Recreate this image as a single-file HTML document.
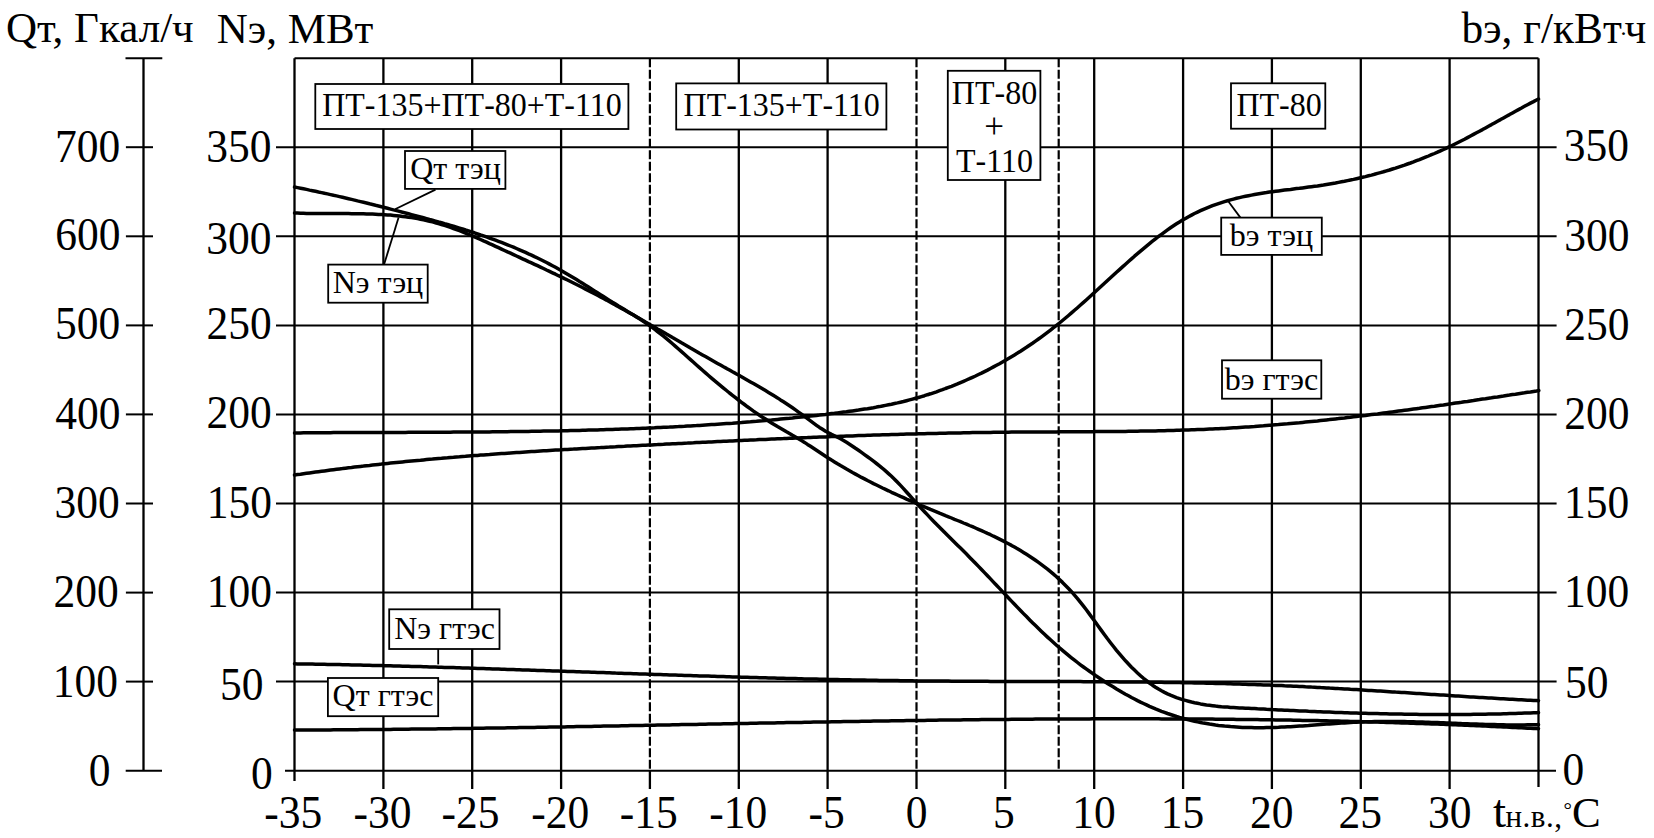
<!DOCTYPE html>
<html><head><meta charset="utf-8"><style>
html,body{margin:0;padding:0;background:#fff;}
svg{display:block;}
text{font-family:"Liberation Serif",serif;fill:#000;}
.g{stroke:#000;stroke-width:2.3;fill:none;}
.gh{stroke:#000;stroke-width:2.0;fill:none;}
.d{stroke:#000;stroke-width:2.2;fill:none;stroke-dasharray:9 2.5;}
.c{stroke:#000;stroke-width:3.5;fill:none;stroke-linecap:round;stroke-linejoin:round;}
.l{stroke:#000;stroke-width:1.8;}
.b{stroke:#000;stroke-width:1.8;fill:#fff;}
</style></head><body>
<svg width="1654" height="838" viewBox="0 0 1654 838">
<line x1="276" y1="681.6" x2="1556.6" y2="681.6" class="gh"/>
<line x1="276" y1="592.6" x2="1556.6" y2="592.6" class="gh"/>
<line x1="276" y1="503.5" x2="1556.6" y2="503.5" class="gh"/>
<line x1="276" y1="414.4" x2="1556.6" y2="414.4" class="gh"/>
<line x1="276" y1="325.4" x2="1556.6" y2="325.4" class="gh"/>
<line x1="276" y1="236.3" x2="1556.6" y2="236.3" class="gh"/>
<line x1="276" y1="147.2" x2="1556.6" y2="147.2" class="gh"/>
<line x1="285" y1="770.7" x2="1556" y2="770.7" class="gh"/>
<line x1="294.5" y1="58.3" x2="1538.5" y2="58.3" class="gh"/>
<line x1="294.5" y1="58.3" x2="294.5" y2="781" class="g"/>
<line x1="383.4" y1="58.3" x2="383.4" y2="789" class="g"/>
<line x1="472.2" y1="58.3" x2="472.2" y2="789" class="g"/>
<line x1="561.1" y1="58.3" x2="561.1" y2="789" class="g"/>
<line x1="649.9" y1="58.3" x2="649.9" y2="770.7" class="d"/>
<line x1="649.9" y1="770.7" x2="649.9" y2="789" class="g"/>
<line x1="738.8" y1="58.3" x2="738.8" y2="789" class="g"/>
<line x1="827.6" y1="58.3" x2="827.6" y2="789" class="g"/>
<line x1="916.5" y1="58.3" x2="916.5" y2="770.7" class="d"/>
<line x1="916.5" y1="770.7" x2="916.5" y2="789" class="g"/>
<line x1="1005.3" y1="58.3" x2="1005.3" y2="789" class="g"/>
<line x1="1094.2" y1="58.3" x2="1094.2" y2="789" class="g"/>
<line x1="1183.1" y1="58.3" x2="1183.1" y2="789" class="g"/>
<line x1="1271.9" y1="58.3" x2="1271.9" y2="789" class="g"/>
<line x1="1360.8" y1="58.3" x2="1360.8" y2="789" class="g"/>
<line x1="1449.6" y1="58.3" x2="1449.6" y2="789" class="g"/>
<line x1="1538.5" y1="58.3" x2="1538.5" y2="787" class="g"/>
<line x1="1058.7" y1="58.3" x2="1058.7" y2="770.7" class="d"/>
<line x1="143.5" y1="58.3" x2="143.5" y2="770.8" class="g"/>
<line x1="125.5" y1="58.3" x2="162.3" y2="58.3" class="gh"/>
<line x1="125.7" y1="770.8" x2="162" y2="770.8" class="gh"/>
<line x1="125.9" y1="681.6" x2="153" y2="681.6" class="gh"/>
<line x1="125.9" y1="592.6" x2="153" y2="592.6" class="gh"/>
<line x1="125.9" y1="503.5" x2="153" y2="503.5" class="gh"/>
<line x1="125.9" y1="414.4" x2="153" y2="414.4" class="gh"/>
<line x1="125.9" y1="325.4" x2="153" y2="325.4" class="gh"/>
<line x1="125.9" y1="236.3" x2="153" y2="236.3" class="gh"/>
<line x1="125.9" y1="147.2" x2="153" y2="147.2" class="gh"/>
<path d="M294.5,187.0 L297.5,187.6 L300.5,188.2 L303.5,188.8 L306.5,189.4 L309.5,190.1 L312.5,190.7 L315.5,191.3 L318.5,192.0 L321.5,192.6 L324.5,193.3 L327.5,193.9 L330.5,194.6 L333.5,195.3 L336.5,195.9 L339.5,196.6 L342.5,197.3 L345.5,198.0 L348.5,198.7 L351.5,199.4 L354.5,200.1 L357.5,200.9 L360.5,201.6 L363.5,202.3 L366.5,203.0 L369.5,203.8 L372.5,204.5 L375.5,205.3 L378.5,206.0 L381.5,206.8 L384.5,207.5 L387.5,208.3 L390.5,209.1 L393.5,209.9 L396.5,210.6 L399.5,211.4 L402.5,212.2 L405.5,213.0 L408.5,213.8 L411.5,214.6 L414.5,215.4 L417.5,216.2 L420.5,217.0 L423.5,217.8 L426.5,218.6 L429.5,219.5 L432.5,220.3 L435.5,221.1 L438.5,222.0 L441.5,222.8 L444.5,223.7 L447.5,224.5 L450.5,225.4 L453.5,226.3 L456.5,227.2 L459.5,228.1 L462.5,229.0 L465.5,230.0 L468.5,230.9 L471.5,231.9 L474.5,232.8 L477.5,233.8 L480.5,234.9 L483.5,235.9 L486.5,236.9 L489.5,238.0 L492.5,239.1 L495.5,240.2 L498.5,241.3 L501.5,242.4 L504.5,243.6 L507.5,244.8 L510.5,246.0 L513.5,247.2 L516.5,248.5 L519.5,249.8 L522.5,251.1 L525.5,252.4 L528.5,253.8 L531.5,255.1 L534.5,256.6 L537.5,258.0 L540.5,259.5 L543.5,261.0 L546.5,262.5 L549.5,264.1 L552.5,265.7 L555.5,267.3 L558.5,269.0 L561.5,270.7 L564.5,272.4 L567.5,274.2 L570.5,276.0 L573.5,277.8 L576.5,279.6 L579.5,281.5 L582.5,283.3 L585.5,285.2 L588.5,287.1 L591.5,289.0 L594.5,290.9 L597.5,292.8 L600.5,294.7 L603.5,296.6 L606.5,298.5 L609.5,300.4 L612.5,302.3 L615.5,304.1 L618.5,306.0 L621.5,307.8 L624.5,309.6 L627.5,311.4 L630.5,313.2 L633.5,315.0 L636.5,316.9 L639.5,318.8 L642.5,320.7 L645.5,322.7 L648.5,324.8 L651.5,326.9 L654.5,329.2 L657.5,331.5 L660.5,333.8 L663.5,336.2 L666.5,338.7 L669.5,341.2 L672.5,343.8 L675.5,346.4 L678.5,349.0 L681.5,351.6 L684.5,354.3 L687.5,357.0 L690.5,359.6 L693.5,362.3 L696.5,365.0 L699.5,367.6 L702.5,370.3 L705.5,372.9 L708.5,375.5 L711.5,378.1 L714.5,380.6 L717.5,383.1 L720.5,385.6 L723.5,388.1 L726.5,390.5 L729.5,393.0 L732.5,395.3 L735.5,397.7 L738.5,400.0 L741.5,402.3 L744.5,404.5 L747.5,406.8 L750.5,408.9 L753.5,411.1 L756.5,413.1 L759.5,415.2 L762.5,417.2 L765.5,419.1 L768.5,421.0 L771.5,422.9 L774.5,424.7 L777.5,426.5 L780.5,428.2 L783.5,429.9 L786.5,431.7 L789.5,433.4 L792.5,435.2 L795.5,436.9 L798.5,438.7 L801.5,440.6 L804.5,442.4 L807.5,444.4 L810.5,446.3 L813.5,448.3 L816.5,450.3 L819.5,452.3 L822.5,454.3 L825.5,456.3 L828.5,458.2 L831.5,460.1 L834.5,461.9 L837.5,463.8 L840.5,465.6 L843.5,467.3 L846.5,469.1 L849.5,470.8 L852.5,472.5 L855.5,474.1 L858.5,475.7 L861.5,477.4 L864.5,478.9 L867.5,480.5 L870.5,482.0 L873.5,483.6 L876.5,485.0 L879.5,486.5 L882.5,488.0 L885.5,489.4 L888.5,490.8 L891.5,492.3 L894.5,493.6 L897.5,495.0 L900.5,496.4 L903.5,497.7 L906.5,499.1 L909.5,500.4 L912.5,501.7 L915.5,503.0 L918.5,504.3 L921.5,505.6 L924.5,506.8 L927.5,508.1 L930.5,509.4 L933.5,510.6 L936.5,511.8 L939.5,513.1 L942.5,514.3 L945.5,515.6 L948.5,516.8 L951.5,518.0 L954.5,519.3 L957.5,520.5 L960.5,521.7 L963.5,523.0 L966.5,524.2 L969.5,525.5 L972.5,526.7 L975.5,528.0 L978.5,529.3 L981.5,530.6 L984.5,532.0 L987.5,533.4 L990.5,534.7 L993.5,536.2 L996.5,537.6 L999.5,539.1 L1002.5,540.6 L1005.5,542.2 L1008.5,543.8 L1011.5,545.4 L1014.5,547.1 L1017.5,548.8 L1020.5,550.6 L1023.5,552.4 L1026.5,554.3 L1029.5,556.2 L1032.5,558.2 L1035.5,560.3 L1038.5,562.4 L1041.5,564.6 L1044.5,566.9 L1047.5,569.2 L1050.5,571.7 L1053.5,574.2 L1056.5,576.8 L1059.5,579.6 L1062.5,582.4 L1065.5,585.4 L1068.5,588.5 L1071.5,591.7 L1074.5,595.1 L1077.5,598.6 L1080.5,602.3 L1083.5,606.1 L1086.5,610.0 L1089.5,614.1 L1092.5,618.2 L1095.5,622.3 L1098.5,626.5 L1101.5,630.6 L1104.5,634.7 L1107.5,638.8 L1110.5,642.7 L1113.5,646.5 L1116.5,650.3 L1119.5,653.9 L1122.5,657.4 L1125.5,660.8 L1128.5,664.0 L1131.5,667.2 L1134.5,670.1 L1137.5,673.0 L1140.5,675.7 L1143.5,678.3 L1146.5,680.7 L1149.5,683.0 L1152.5,685.2 L1155.5,687.2 L1158.5,689.1 L1161.5,690.8 L1164.5,692.4 L1167.5,693.9 L1170.5,695.2 L1173.5,696.4 L1176.5,697.6 L1179.5,698.6 L1182.5,699.6 L1185.5,700.4 L1188.5,701.2 L1191.5,702.0 L1194.5,702.7 L1197.5,703.3 L1200.5,703.9 L1203.5,704.4 L1206.5,704.9 L1209.5,705.3 L1212.5,705.7 L1215.5,706.1 L1218.5,706.4 L1221.5,706.7 L1224.5,706.9 L1227.5,707.1 L1230.5,707.4 L1233.5,707.5 L1236.5,707.7 L1239.5,707.9 L1242.5,708.0 L1245.5,708.2 L1248.5,708.3 L1251.5,708.5 L1254.5,708.6 L1257.5,708.8 L1260.5,708.9 L1263.5,709.1 L1266.5,709.3 L1269.5,709.4 L1272.5,709.6 L1275.5,709.7 L1278.5,709.9 L1281.5,710.0 L1284.5,710.2 L1287.5,710.3 L1290.5,710.5 L1293.5,710.6 L1296.5,710.7 L1299.5,710.9 L1302.5,711.0 L1305.5,711.1 L1308.5,711.3 L1311.5,711.4 L1314.5,711.5 L1317.5,711.7 L1320.5,711.8 L1323.5,711.9 L1326.5,712.0 L1329.5,712.1 L1332.5,712.2 L1335.5,712.4 L1338.5,712.5 L1341.5,712.6 L1344.5,712.7 L1347.5,712.8 L1350.5,712.9 L1353.5,713.0 L1356.5,713.1 L1359.5,713.2 L1362.5,713.2 L1365.5,713.3 L1368.5,713.4 L1371.5,713.5 L1374.5,713.6 L1377.5,713.6 L1380.5,713.7 L1383.5,713.8 L1386.5,713.8 L1389.5,713.9 L1392.5,714.0 L1395.5,714.0 L1398.5,714.1 L1401.5,714.1 L1404.5,714.2 L1407.5,714.2 L1410.5,714.3 L1413.5,714.3 L1416.5,714.3 L1419.5,714.4 L1422.5,714.4 L1425.5,714.4 L1428.5,714.4 L1431.5,714.5 L1434.5,714.5 L1437.5,714.5 L1440.5,714.5 L1443.5,714.5 L1446.5,714.5 L1449.5,714.5 L1452.5,714.5 L1455.5,714.5 L1458.5,714.5 L1461.5,714.4 L1464.5,714.4 L1467.5,714.4 L1470.5,714.4 L1473.5,714.3 L1476.5,714.3 L1479.5,714.2 L1482.5,714.2 L1485.5,714.2 L1488.5,714.1 L1491.5,714.0 L1494.5,714.0 L1497.5,713.9 L1500.5,713.9 L1503.5,713.8 L1506.5,713.7 L1509.5,713.6 L1512.5,713.5 L1515.5,713.4 L1518.5,713.3 L1521.5,713.2 L1524.5,713.1 L1527.5,713.0 L1530.5,712.9 L1533.5,712.8 L1536.5,712.7 L1538.5,712.6" class="c"/>
<path d="M294.5,213.0 L297.5,213.1 L300.5,213.2 L303.5,213.3 L306.5,213.4 L309.5,213.5 L312.5,213.5 L315.5,213.5 L318.5,213.6 L321.5,213.6 L324.5,213.6 L327.5,213.6 L330.5,213.6 L333.5,213.6 L336.5,213.6 L339.5,213.6 L342.5,213.6 L345.5,213.6 L348.5,213.6 L351.5,213.7 L354.5,213.7 L357.5,213.7 L360.5,213.8 L363.5,213.8 L366.5,213.9 L369.5,214.0 L372.5,214.1 L375.5,214.2 L378.5,214.4 L381.5,214.5 L384.5,214.7 L387.5,214.9 L390.5,215.1 L393.5,215.4 L396.5,215.7 L399.5,216.0 L402.5,216.4 L405.5,216.7 L408.5,217.2 L411.5,217.6 L414.5,218.1 L417.5,218.6 L420.5,219.2 L423.5,219.8 L426.5,220.5 L429.5,221.2 L432.5,221.9 L435.5,222.7 L438.5,223.6 L441.5,224.5 L444.5,225.4 L447.5,226.4 L450.5,227.4 L453.5,228.5 L456.5,229.6 L459.5,230.7 L462.5,231.9 L465.5,233.1 L468.5,234.3 L471.5,235.6 L474.5,236.9 L477.5,238.2 L480.5,239.5 L483.5,240.9 L486.5,242.2 L489.5,243.6 L492.5,244.9 L495.5,246.3 L498.5,247.7 L501.5,249.1 L504.5,250.5 L507.5,251.9 L510.5,253.2 L513.5,254.6 L516.5,256.0 L519.5,257.4 L522.5,258.8 L525.5,260.2 L528.5,261.6 L531.5,262.9 L534.5,264.3 L537.5,265.7 L540.5,267.1 L543.5,268.5 L546.5,270.0 L549.5,271.4 L552.5,272.8 L555.5,274.2 L558.5,275.7 L561.5,277.1 L564.5,278.6 L567.5,280.0 L570.5,281.5 L573.5,283.0 L576.5,284.5 L579.5,286.0 L582.5,287.5 L585.5,289.1 L588.5,290.6 L591.5,292.2 L594.5,293.7 L597.5,295.3 L600.5,296.9 L603.5,298.5 L606.5,300.1 L609.5,301.8 L612.5,303.4 L615.5,305.1 L618.5,306.7 L621.5,308.4 L624.5,310.0 L627.5,311.7 L630.5,313.4 L633.5,315.1 L636.5,316.8 L639.5,318.5 L642.5,320.2 L645.5,322.0 L648.5,323.7 L651.5,325.4 L654.5,327.1 L657.5,328.9 L660.5,330.6 L663.5,332.3 L666.5,334.1 L669.5,335.8 L672.5,337.6 L675.5,339.3 L678.5,341.0 L681.5,342.8 L684.5,344.5 L687.5,346.2 L690.5,348.0 L693.5,349.7 L696.5,351.4 L699.5,353.2 L702.5,354.9 L705.5,356.6 L708.5,358.3 L711.5,360.0 L714.5,361.7 L717.5,363.4 L720.5,365.1 L723.5,366.8 L726.5,368.4 L729.5,370.1 L732.5,371.8 L735.5,373.4 L738.5,375.1 L741.5,376.8 L744.5,378.5 L747.5,380.2 L750.5,381.9 L753.5,383.6 L756.5,385.3 L759.5,387.0 L762.5,388.8 L765.5,390.6 L768.5,392.4 L771.5,394.2 L774.5,396.1 L777.5,397.9 L780.5,399.9 L783.5,401.8 L786.5,403.8 L789.5,405.8 L792.5,407.8 L795.5,409.9 L798.5,412.1 L801.5,414.2 L804.5,416.4 L807.5,418.7 L810.5,420.9 L813.5,423.1 L816.5,425.3 L819.5,427.4 L822.5,429.3 L825.5,431.2 L828.5,432.8 L831.5,434.4 L834.5,435.8 L837.5,437.3 L840.5,438.8 L843.5,440.5 L846.5,442.3 L849.5,444.2 L852.5,446.2 L855.5,448.3 L858.5,450.3 L861.5,452.4 L864.5,454.6 L867.5,456.7 L870.5,458.9 L873.5,461.2 L876.5,463.5 L879.5,465.9 L882.5,468.3 L885.5,470.9 L888.5,473.6 L891.5,476.3 L894.5,479.2 L897.5,482.3 L900.5,485.4 L903.5,488.6 L906.5,492.0 L909.5,495.3 L912.5,498.7 L915.5,502.0 L918.5,505.3 L921.5,508.6 L924.5,511.8 L927.5,514.9 L930.5,518.1 L933.5,521.2 L936.5,524.2 L939.5,527.2 L942.5,530.3 L945.5,533.3 L948.5,536.2 L951.5,539.2 L954.5,542.2 L957.5,545.2 L960.5,548.1 L963.5,551.1 L966.5,554.1 L969.5,557.2 L972.5,560.2 L975.5,563.3 L978.5,566.4 L981.5,569.5 L984.5,572.6 L987.5,575.8 L990.5,578.9 L993.5,582.1 L996.5,585.3 L999.5,588.4 L1002.5,591.6 L1005.5,594.8 L1008.5,598.0 L1011.5,601.1 L1014.5,604.2 L1017.5,607.4 L1020.5,610.5 L1023.5,613.6 L1026.5,616.6 L1029.5,619.7 L1032.5,622.7 L1035.5,625.6 L1038.5,628.5 L1041.5,631.4 L1044.5,634.3 L1047.5,637.1 L1050.5,639.8 L1053.5,642.5 L1056.5,645.2 L1059.5,647.8 L1062.5,650.4 L1065.5,652.9 L1068.5,655.4 L1071.5,657.8 L1074.5,660.1 L1077.5,662.5 L1080.5,664.8 L1083.5,667.0 L1086.5,669.2 L1089.5,671.3 L1092.5,673.4 L1095.5,675.5 L1098.5,677.5 L1101.5,679.5 L1104.5,681.5 L1107.5,683.4 L1110.5,685.3 L1113.5,687.1 L1116.5,689.0 L1119.5,690.7 L1122.5,692.5 L1125.5,694.2 L1128.5,695.8 L1131.5,697.5 L1134.5,699.0 L1137.5,700.6 L1140.5,702.1 L1143.5,703.5 L1146.5,704.9 L1149.5,706.3 L1152.5,707.6 L1155.5,708.9 L1158.5,710.1 L1161.5,711.3 L1164.5,712.4 L1167.5,713.5 L1170.5,714.5 L1173.5,715.5 L1176.5,716.5 L1179.5,717.4 L1182.5,718.2 L1185.5,719.0 L1188.5,719.8 L1191.5,720.5 L1194.5,721.2 L1197.5,721.9 L1200.5,722.5 L1203.5,723.1 L1206.5,723.6 L1209.5,724.1 L1212.5,724.5 L1215.5,725.0 L1218.5,725.4 L1221.5,725.7 L1224.5,726.1 L1227.5,726.3 L1230.5,726.6 L1233.5,726.8 L1236.5,727.0 L1239.5,727.2 L1242.5,727.4 L1245.5,727.5 L1248.5,727.6 L1251.5,727.6 L1254.5,727.7 L1257.5,727.7 L1260.5,727.7 L1263.5,727.7 L1266.5,727.6 L1269.5,727.6 L1272.5,727.5 L1275.5,727.4 L1278.5,727.3 L1281.5,727.1 L1284.5,727.0 L1287.5,726.8 L1290.5,726.7 L1293.5,726.5 L1296.5,726.3 L1299.5,726.1 L1302.5,725.9 L1305.5,725.7 L1308.5,725.5 L1311.5,725.2 L1314.5,725.0 L1317.5,724.8 L1320.5,724.6 L1323.5,724.3 L1326.5,724.1 L1329.5,723.9 L1332.5,723.7 L1335.5,723.5 L1338.5,723.2 L1341.5,723.0 L1344.5,722.9 L1347.5,722.7 L1350.5,722.5 L1353.5,722.3 L1356.5,722.2 L1359.5,722.1 L1362.5,721.9 L1365.5,721.8 L1368.5,721.7 L1371.5,721.7 L1374.5,721.6 L1377.5,721.6 L1380.5,721.5 L1383.5,721.5 L1386.5,721.5 L1389.5,721.5 L1392.5,721.5 L1395.5,721.5 L1398.5,721.6 L1401.5,721.6 L1404.5,721.6 L1407.5,721.7 L1410.5,721.8 L1413.5,721.8 L1416.5,721.9 L1419.5,722.0 L1422.5,722.1 L1425.5,722.2 L1428.5,722.3 L1431.5,722.4 L1434.5,722.5 L1437.5,722.6 L1440.5,722.7 L1443.5,722.8 L1446.5,723.0 L1449.5,723.1 L1452.5,723.2 L1455.5,723.3 L1458.5,723.4 L1461.5,723.6 L1464.5,723.7 L1467.5,723.8 L1470.5,723.9 L1473.5,724.0 L1476.5,724.1 L1479.5,724.2 L1482.5,724.3 L1485.5,724.4 L1488.5,724.5 L1491.5,724.6 L1494.5,724.6 L1497.5,724.7 L1500.5,724.8 L1503.5,724.8 L1506.5,724.9 L1509.5,724.9 L1512.5,724.9 L1515.5,724.9 L1518.5,724.9 L1521.5,724.9 L1524.5,724.9 L1527.5,724.8 L1530.5,724.8 L1533.5,724.7 L1536.5,724.7 L1538.5,724.6" class="c"/>
<path d="M294.5,432.9 L297.5,432.9 L300.5,432.9 L303.5,432.8 L306.5,432.8 L309.5,432.8 L312.5,432.8 L315.5,432.7 L318.5,432.7 L321.5,432.7 L324.5,432.7 L327.5,432.7 L330.5,432.7 L333.5,432.6 L336.5,432.6 L339.5,432.6 L342.5,432.6 L345.5,432.6 L348.5,432.6 L351.5,432.6 L354.5,432.5 L357.5,432.5 L360.5,432.5 L363.5,432.5 L366.5,432.5 L369.5,432.5 L372.5,432.5 L375.5,432.5 L378.5,432.4 L381.5,432.4 L384.5,432.4 L387.5,432.4 L390.5,432.4 L393.5,432.4 L396.5,432.4 L399.5,432.4 L402.5,432.4 L405.5,432.4 L408.5,432.3 L411.5,432.3 L414.5,432.3 L417.5,432.3 L420.5,432.3 L423.5,432.3 L426.5,432.3 L429.5,432.3 L432.5,432.2 L435.5,432.2 L438.5,432.2 L441.5,432.2 L444.5,432.2 L447.5,432.2 L450.5,432.2 L453.5,432.1 L456.5,432.1 L459.5,432.1 L462.5,432.1 L465.5,432.1 L468.5,432.0 L471.5,432.0 L474.5,432.0 L477.5,432.0 L480.5,431.9 L483.5,431.9 L486.5,431.9 L489.5,431.9 L492.5,431.8 L495.5,431.8 L498.5,431.8 L501.5,431.7 L504.5,431.7 L507.5,431.7 L510.5,431.6 L513.5,431.6 L516.5,431.6 L519.5,431.5 L522.5,431.5 L525.5,431.4 L528.5,431.4 L531.5,431.3 L534.5,431.3 L537.5,431.2 L540.5,431.2 L543.5,431.1 L546.5,431.1 L549.5,431.0 L552.5,431.0 L555.5,430.9 L558.5,430.9 L561.5,430.8 L564.5,430.7 L567.5,430.7 L570.5,430.6 L573.5,430.5 L576.5,430.5 L579.5,430.4 L582.5,430.3 L585.5,430.2 L588.5,430.1 L591.5,430.1 L594.5,430.0 L597.5,429.9 L600.5,429.8 L603.5,429.7 L606.5,429.6 L609.5,429.5 L612.5,429.4 L615.5,429.3 L618.5,429.2 L621.5,429.1 L624.5,429.0 L627.5,428.9 L630.5,428.8 L633.5,428.7 L636.5,428.5 L639.5,428.4 L642.5,428.3 L645.5,428.2 L648.5,428.0 L651.5,427.9 L654.5,427.8 L657.5,427.6 L660.5,427.5 L663.5,427.3 L666.5,427.2 L669.5,427.1 L672.5,426.9 L675.5,426.7 L678.5,426.6 L681.5,426.4 L684.5,426.3 L687.5,426.1 L690.5,425.9 L693.5,425.7 L696.5,425.6 L699.5,425.4 L702.5,425.2 L705.5,425.0 L708.5,424.8 L711.5,424.6 L714.5,424.4 L717.5,424.2 L720.5,424.0 L723.5,423.8 L726.5,423.6 L729.5,423.4 L732.5,423.2 L735.5,422.9 L738.5,422.7 L741.5,422.5 L744.5,422.2 L747.5,422.0 L750.5,421.8 L753.5,421.5 L756.5,421.3 L759.5,421.0 L762.5,420.8 L765.5,420.5 L768.5,420.2 L771.5,420.0 L774.5,419.7 L777.5,419.4 L780.5,419.1 L783.5,418.8 L786.5,418.5 L789.5,418.3 L792.5,418.0 L795.5,417.6 L798.5,417.3 L801.5,417.0 L804.5,416.7 L807.5,416.4 L810.5,416.1 L813.5,415.7 L816.5,415.4 L819.5,415.1 L822.5,414.7 L825.5,414.4 L828.5,414.0 L831.5,413.6 L834.5,413.3 L837.5,412.9 L840.5,412.5 L843.5,412.1 L846.5,411.8 L849.5,411.3 L852.5,410.9 L855.5,410.5 L858.5,410.1 L861.5,409.6 L864.5,409.1 L867.5,408.7 L870.5,408.2 L873.5,407.7 L876.5,407.1 L879.5,406.6 L882.5,406.0 L885.5,405.4 L888.5,404.8 L891.5,404.2 L894.5,403.5 L897.5,402.9 L900.5,402.2 L903.5,401.5 L906.5,400.7 L909.5,399.9 L912.5,399.1 L915.5,398.3 L918.5,397.5 L921.5,396.6 L924.5,395.7 L927.5,394.7 L930.5,393.8 L933.5,392.8 L936.5,391.8 L939.5,390.7 L942.5,389.7 L945.5,388.5 L948.5,387.4 L951.5,386.3 L954.5,385.1 L957.5,383.9 L960.5,382.6 L963.5,381.3 L966.5,380.0 L969.5,378.7 L972.5,377.3 L975.5,376.0 L978.5,374.5 L981.5,373.1 L984.5,371.6 L987.5,370.1 L990.5,368.5 L993.5,366.9 L996.5,365.3 L999.5,363.7 L1002.5,362.0 L1005.5,360.3 L1008.5,358.5 L1011.5,356.7 L1014.5,354.9 L1017.5,353.1 L1020.5,351.2 L1023.5,349.2 L1026.5,347.3 L1029.5,345.2 L1032.5,343.2 L1035.5,341.1 L1038.5,339.0 L1041.5,336.8 L1044.5,334.6 L1047.5,332.4 L1050.5,330.1 L1053.5,327.7 L1056.5,325.4 L1059.5,323.0 L1062.5,320.5 L1065.5,318.0 L1068.5,315.5 L1071.5,312.9 L1074.5,310.3 L1077.5,307.7 L1080.5,305.0 L1083.5,302.4 L1086.5,299.7 L1089.5,297.0 L1092.5,294.2 L1095.5,291.5 L1098.5,288.8 L1101.5,286.0 L1104.5,283.3 L1107.5,280.5 L1110.5,277.8 L1113.5,275.0 L1116.5,272.3 L1119.5,269.6 L1122.5,266.9 L1125.5,264.2 L1128.5,261.5 L1131.5,258.9 L1134.5,256.2 L1137.5,253.7 L1140.5,251.1 L1143.5,248.6 L1146.5,246.1 L1149.5,243.6 L1152.5,241.2 L1155.5,238.9 L1158.5,236.5 L1161.5,234.3 L1164.5,232.1 L1167.5,229.9 L1170.5,227.8 L1173.5,225.8 L1176.5,223.8 L1179.5,221.9 L1182.5,220.1 L1185.5,218.4 L1188.5,216.7 L1191.5,215.1 L1194.5,213.5 L1197.5,212.1 L1200.5,210.7 L1203.5,209.3 L1206.5,208.1 L1209.5,206.9 L1212.5,205.7 L1215.5,204.6 L1218.5,203.6 L1221.5,202.6 L1224.5,201.6 L1227.5,200.7 L1230.5,199.9 L1233.5,199.1 L1236.5,198.3 L1239.5,197.6 L1242.5,196.9 L1245.5,196.3 L1248.5,195.7 L1251.5,195.1 L1254.5,194.5 L1257.5,194.0 L1260.5,193.5 L1263.5,193.0 L1266.5,192.6 L1269.5,192.1 L1272.5,191.7 L1275.5,191.3 L1278.5,190.9 L1281.5,190.5 L1284.5,190.1 L1287.5,189.7 L1290.5,189.4 L1293.5,189.0 L1296.5,188.6 L1299.5,188.3 L1302.5,187.9 L1305.5,187.5 L1308.5,187.1 L1311.5,186.7 L1314.5,186.3 L1317.5,185.9 L1320.5,185.4 L1323.5,185.0 L1326.5,184.5 L1329.5,184.0 L1332.5,183.5 L1335.5,183.0 L1338.5,182.4 L1341.5,181.8 L1344.5,181.3 L1347.5,180.6 L1350.5,180.0 L1353.5,179.4 L1356.5,178.7 L1359.5,178.0 L1362.5,177.3 L1365.5,176.6 L1368.5,175.8 L1371.5,175.1 L1374.5,174.3 L1377.5,173.4 L1380.5,172.6 L1383.5,171.8 L1386.5,170.9 L1389.5,170.0 L1392.5,169.0 L1395.5,168.1 L1398.5,167.1 L1401.5,166.1 L1404.5,165.1 L1407.5,164.0 L1410.5,163.0 L1413.5,161.9 L1416.5,160.7 L1419.5,159.6 L1422.5,158.4 L1425.5,157.2 L1428.5,156.0 L1431.5,154.7 L1434.5,153.5 L1437.5,152.2 L1440.5,150.8 L1443.5,149.5 L1446.5,148.1 L1449.5,146.7 L1452.5,145.2 L1455.5,143.7 L1458.5,142.2 L1461.5,140.7 L1464.5,139.2 L1467.5,137.6 L1470.5,136.0 L1473.5,134.4 L1476.5,132.8 L1479.5,131.2 L1482.5,129.6 L1485.5,127.9 L1488.5,126.2 L1491.5,124.6 L1494.5,122.9 L1497.5,121.2 L1500.5,119.6 L1503.5,117.9 L1506.5,116.2 L1509.5,114.6 L1512.5,112.9 L1515.5,111.2 L1518.5,109.6 L1521.5,108.0 L1524.5,106.3 L1527.5,104.7 L1530.5,103.1 L1533.5,101.6 L1536.5,100.0 L1538.5,99.0" class="c"/>
<path d="M294.5,475.0 L297.5,474.6 L300.5,474.2 L303.5,473.7 L306.5,473.3 L309.5,472.9 L312.5,472.5 L315.5,472.1 L318.5,471.7 L321.5,471.3 L324.5,470.9 L327.5,470.5 L330.5,470.1 L333.5,469.7 L336.5,469.3 L339.5,468.9 L342.5,468.6 L345.5,468.2 L348.5,467.8 L351.5,467.5 L354.5,467.1 L357.5,466.7 L360.5,466.4 L363.5,466.1 L366.5,465.7 L369.5,465.4 L372.5,465.0 L375.5,464.7 L378.5,464.4 L381.5,464.1 L384.5,463.7 L387.5,463.4 L390.5,463.1 L393.5,462.8 L396.5,462.5 L399.5,462.2 L402.5,461.9 L405.5,461.6 L408.5,461.3 L411.5,461.0 L414.5,460.7 L417.5,460.4 L420.5,460.2 L423.5,459.9 L426.5,459.6 L429.5,459.3 L432.5,459.1 L435.5,458.8 L438.5,458.5 L441.5,458.3 L444.5,458.0 L447.5,457.8 L450.5,457.5 L453.5,457.3 L456.5,457.0 L459.5,456.8 L462.5,456.5 L465.5,456.3 L468.5,456.0 L471.5,455.8 L474.5,455.6 L477.5,455.4 L480.5,455.1 L483.5,454.9 L486.5,454.7 L489.5,454.5 L492.5,454.2 L495.5,454.0 L498.5,453.8 L501.5,453.6 L504.5,453.4 L507.5,453.2 L510.5,453.0 L513.5,452.8 L516.5,452.6 L519.5,452.4 L522.5,452.2 L525.5,452.0 L528.5,451.8 L531.5,451.6 L534.5,451.4 L537.5,451.2 L540.5,451.0 L543.5,450.8 L546.5,450.7 L549.5,450.5 L552.5,450.3 L555.5,450.1 L558.5,449.9 L561.5,449.8 L564.5,449.6 L567.5,449.4 L570.5,449.2 L573.5,449.1 L576.5,448.9 L579.5,448.7 L582.5,448.5 L585.5,448.4 L588.5,448.2 L591.5,448.0 L594.5,447.9 L597.5,447.7 L600.5,447.6 L603.5,447.4 L606.5,447.2 L609.5,447.1 L612.5,446.9 L615.5,446.8 L618.5,446.6 L621.5,446.4 L624.5,446.3 L627.5,446.1 L630.5,446.0 L633.5,445.8 L636.5,445.7 L639.5,445.5 L642.5,445.3 L645.5,445.2 L648.5,445.0 L651.5,444.9 L654.5,444.7 L657.5,444.6 L660.5,444.4 L663.5,444.3 L666.5,444.1 L669.5,444.0 L672.5,443.8 L675.5,443.7 L678.5,443.5 L681.5,443.4 L684.5,443.2 L687.5,443.1 L690.5,442.9 L693.5,442.8 L696.5,442.6 L699.5,442.5 L702.5,442.3 L705.5,442.2 L708.5,442.0 L711.5,441.9 L714.5,441.7 L717.5,441.6 L720.5,441.5 L723.5,441.3 L726.5,441.2 L729.5,441.0 L732.5,440.9 L735.5,440.7 L738.5,440.6 L741.5,440.5 L744.5,440.3 L747.5,440.2 L750.5,440.0 L753.5,439.9 L756.5,439.8 L759.5,439.6 L762.5,439.5 L765.5,439.4 L768.5,439.2 L771.5,439.1 L774.5,439.0 L777.5,438.8 L780.5,438.7 L783.5,438.6 L786.5,438.4 L789.5,438.3 L792.5,438.2 L795.5,438.1 L798.5,437.9 L801.5,437.8 L804.5,437.7 L807.5,437.6 L810.5,437.4 L813.5,437.3 L816.5,437.2 L819.5,437.1 L822.5,437.0 L825.5,436.9 L828.5,436.7 L831.5,436.6 L834.5,436.5 L837.5,436.4 L840.5,436.3 L843.5,436.2 L846.5,436.1 L849.5,436.0 L852.5,435.9 L855.5,435.7 L858.5,435.6 L861.5,435.5 L864.5,435.4 L867.5,435.3 L870.5,435.2 L873.5,435.1 L876.5,435.0 L879.5,434.9 L882.5,434.8 L885.5,434.8 L888.5,434.7 L891.5,434.6 L894.5,434.5 L897.5,434.4 L900.5,434.3 L903.5,434.2 L906.5,434.1 L909.5,434.1 L912.5,434.0 L915.5,433.9 L918.5,433.8 L921.5,433.7 L924.5,433.7 L927.5,433.6 L930.5,433.5 L933.5,433.4 L936.5,433.4 L939.5,433.3 L942.5,433.2 L945.5,433.2 L948.5,433.1 L951.5,433.0 L954.5,433.0 L957.5,432.9 L960.5,432.9 L963.5,432.8 L966.5,432.8 L969.5,432.7 L972.5,432.6 L975.5,432.6 L978.5,432.6 L981.5,432.5 L984.5,432.5 L987.5,432.4 L990.5,432.4 L993.5,432.3 L996.5,432.3 L999.5,432.3 L1002.5,432.2 L1005.5,432.2 L1008.5,432.2 L1011.5,432.1 L1014.5,432.1 L1017.5,432.1 L1020.5,432.1 L1023.5,432.0 L1026.5,432.0 L1029.5,432.0 L1032.5,432.0 L1035.5,432.0 L1038.5,431.9 L1041.5,431.9 L1044.5,431.9 L1047.5,431.9 L1050.5,431.9 L1053.5,431.9 L1056.5,431.9 L1059.5,431.8 L1062.5,431.8 L1065.5,431.8 L1068.5,431.8 L1071.5,431.8 L1074.5,431.8 L1077.5,431.8 L1080.5,431.7 L1083.5,431.7 L1086.5,431.7 L1089.5,431.7 L1092.5,431.7 L1095.5,431.6 L1098.5,431.6 L1101.5,431.6 L1104.5,431.6 L1107.5,431.6 L1110.5,431.5 L1113.5,431.5 L1116.5,431.5 L1119.5,431.4 L1122.5,431.4 L1125.5,431.4 L1128.5,431.3 L1131.5,431.3 L1134.5,431.2 L1137.5,431.2 L1140.5,431.1 L1143.5,431.1 L1146.5,431.0 L1149.5,431.0 L1152.5,430.9 L1155.5,430.9 L1158.5,430.8 L1161.5,430.7 L1164.5,430.7 L1167.5,430.6 L1170.5,430.5 L1173.5,430.4 L1176.5,430.3 L1179.5,430.2 L1182.5,430.1 L1185.5,430.0 L1188.5,429.9 L1191.5,429.8 L1194.5,429.7 L1197.5,429.6 L1200.5,429.5 L1203.5,429.4 L1206.5,429.2 L1209.5,429.1 L1212.5,429.0 L1215.5,428.8 L1218.5,428.7 L1221.5,428.5 L1224.5,428.4 L1227.5,428.2 L1230.5,428.0 L1233.5,427.8 L1236.5,427.7 L1239.5,427.5 L1242.5,427.3 L1245.5,427.1 L1248.5,426.9 L1251.5,426.7 L1254.5,426.5 L1257.5,426.2 L1260.5,426.0 L1263.5,425.8 L1266.5,425.5 L1269.5,425.3 L1272.5,425.1 L1275.5,424.8 L1278.5,424.6 L1281.5,424.3 L1284.5,424.0 L1287.5,423.8 L1290.5,423.5 L1293.5,423.2 L1296.5,422.9 L1299.5,422.7 L1302.5,422.4 L1305.5,422.1 L1308.5,421.8 L1311.5,421.5 L1314.5,421.2 L1317.5,420.9 L1320.5,420.5 L1323.5,420.2 L1326.5,419.9 L1329.5,419.6 L1332.5,419.2 L1335.5,418.9 L1338.5,418.6 L1341.5,418.2 L1344.5,417.9 L1347.5,417.5 L1350.5,417.2 L1353.5,416.8 L1356.5,416.5 L1359.5,416.1 L1362.5,415.7 L1365.5,415.4 L1368.5,415.0 L1371.5,414.6 L1374.5,414.2 L1377.5,413.9 L1380.5,413.5 L1383.5,413.1 L1386.5,412.7 L1389.5,412.3 L1392.5,411.9 L1395.5,411.5 L1398.5,411.1 L1401.5,410.7 L1404.5,410.3 L1407.5,409.9 L1410.5,409.5 L1413.5,409.1 L1416.5,408.7 L1419.5,408.3 L1422.5,407.8 L1425.5,407.4 L1428.5,407.0 L1431.5,406.6 L1434.5,406.2 L1437.5,405.7 L1440.5,405.3 L1443.5,404.9 L1446.5,404.4 L1449.5,404.0 L1452.5,403.6 L1455.5,403.1 L1458.5,402.7 L1461.5,402.3 L1464.5,401.8 L1467.5,401.4 L1470.5,400.9 L1473.5,400.5 L1476.5,400.0 L1479.5,399.6 L1482.5,399.1 L1485.5,398.7 L1488.5,398.2 L1491.5,397.8 L1494.5,397.3 L1497.5,396.9 L1500.5,396.4 L1503.5,396.0 L1506.5,395.5 L1509.5,395.1 L1512.5,394.6 L1515.5,394.2 L1518.5,393.7 L1521.5,393.2 L1524.5,392.8 L1527.5,392.3 L1530.5,391.9 L1533.5,391.4 L1536.5,391.0 L1538.8,390.6" class="c"/>
<path d="M294.5,663.8 L297.5,663.9 L300.5,663.9 L303.5,664.0 L306.5,664.0 L309.5,664.1 L312.5,664.1 L315.5,664.2 L318.5,664.2 L321.5,664.3 L324.5,664.3 L327.5,664.4 L330.5,664.4 L333.5,664.5 L336.5,664.6 L339.5,664.6 L342.5,664.7 L345.5,664.8 L348.5,664.8 L351.5,664.9 L354.5,665.0 L357.5,665.0 L360.5,665.1 L363.5,665.2 L366.5,665.2 L369.5,665.3 L372.5,665.4 L375.5,665.5 L378.5,665.5 L381.5,665.6 L384.5,665.7 L387.5,665.8 L390.5,665.8 L393.5,665.9 L396.5,666.0 L399.5,666.1 L402.5,666.2 L405.5,666.2 L408.5,666.3 L411.5,666.4 L414.5,666.5 L417.5,666.6 L420.5,666.6 L423.5,666.7 L426.5,666.8 L429.5,666.9 L432.5,667.0 L435.5,667.1 L438.5,667.2 L441.5,667.3 L444.5,667.4 L447.5,667.4 L450.5,667.5 L453.5,667.6 L456.5,667.7 L459.5,667.8 L462.5,667.9 L465.5,668.0 L468.5,668.1 L471.5,668.2 L474.5,668.3 L477.5,668.4 L480.5,668.5 L483.5,668.6 L486.5,668.7 L489.5,668.8 L492.5,668.9 L495.5,669.0 L498.5,669.1 L501.5,669.2 L504.5,669.3 L507.5,669.4 L510.5,669.5 L513.5,669.6 L516.5,669.7 L519.5,669.8 L522.5,669.9 L525.5,670.0 L528.5,670.1 L531.5,670.2 L534.5,670.3 L537.5,670.4 L540.5,670.5 L543.5,670.6 L546.5,670.7 L549.5,670.8 L552.5,670.9 L555.5,671.0 L558.5,671.1 L561.5,671.2 L564.5,671.3 L567.5,671.4 L570.5,671.5 L573.5,671.6 L576.5,671.7 L579.5,671.8 L582.5,671.9 L585.5,672.0 L588.5,672.1 L591.5,672.2 L594.5,672.3 L597.5,672.4 L600.5,672.5 L603.5,672.6 L606.5,672.7 L609.5,672.8 L612.5,672.9 L615.5,673.1 L618.5,673.2 L621.5,673.3 L624.5,673.4 L627.5,673.5 L630.5,673.6 L633.5,673.7 L636.5,673.8 L639.5,673.9 L642.5,674.0 L645.5,674.1 L648.5,674.2 L651.5,674.3 L654.5,674.4 L657.5,674.5 L660.5,674.6 L663.5,674.7 L666.5,674.8 L669.5,674.9 L672.5,675.0 L675.5,675.1 L678.5,675.2 L681.5,675.3 L684.5,675.4 L687.5,675.5 L690.5,675.6 L693.5,675.7 L696.5,675.8 L699.5,675.9 L702.5,676.0 L705.5,676.1 L708.5,676.1 L711.5,676.2 L714.5,676.3 L717.5,676.4 L720.5,676.5 L723.5,676.6 L726.5,676.7 L729.5,676.8 L732.5,676.9 L735.5,677.0 L738.5,677.1 L741.5,677.2 L744.5,677.2 L747.5,677.3 L750.5,677.4 L753.5,677.5 L756.5,677.6 L759.5,677.7 L762.5,677.8 L765.5,677.8 L768.5,677.9 L771.5,678.0 L774.5,678.1 L777.5,678.2 L780.5,678.2 L783.5,678.3 L786.5,678.4 L789.5,678.5 L792.5,678.6 L795.5,678.6 L798.5,678.7 L801.5,678.8 L804.5,678.9 L807.5,678.9 L810.5,679.0 L813.5,679.1 L816.5,679.1 L819.5,679.2 L822.5,679.3 L825.5,679.3 L828.5,679.4 L831.5,679.5 L834.5,679.5 L837.5,679.6 L840.5,679.7 L843.5,679.7 L846.5,679.8 L849.5,679.8 L852.5,679.9 L855.5,680.0 L858.5,680.0 L861.5,680.1 L864.5,680.1 L867.5,680.2 L870.5,680.2 L873.5,680.3 L876.5,680.3 L879.5,680.4 L882.5,680.4 L885.5,680.5 L888.5,680.5 L891.5,680.6 L894.5,680.6 L897.5,680.6 L900.5,680.7 L903.5,680.7 L906.5,680.8 L909.5,680.8 L912.5,680.8 L915.5,680.9 L918.5,680.9 L921.5,680.9 L924.5,680.9 L927.5,681.0 L930.5,681.0 L933.5,681.0 L936.5,681.1 L939.5,681.1 L942.5,681.1 L945.5,681.1 L948.5,681.1 L951.5,681.2 L954.5,681.2 L957.5,681.2 L960.5,681.2 L963.5,681.2 L966.5,681.3 L969.5,681.3 L972.5,681.3 L975.5,681.3 L978.5,681.3 L981.5,681.3 L984.5,681.3 L987.5,681.3 L990.5,681.4 L993.5,681.4 L996.5,681.4 L999.5,681.4 L1002.5,681.4 L1005.5,681.4 L1008.5,681.4 L1011.5,681.4 L1014.5,681.4 L1017.5,681.4 L1020.5,681.4 L1023.5,681.5 L1026.5,681.5 L1029.5,681.5 L1032.5,681.5 L1035.5,681.5 L1038.5,681.5 L1041.5,681.5 L1044.5,681.5 L1047.5,681.5 L1050.5,681.5 L1053.5,681.5 L1056.5,681.5 L1059.5,681.6 L1062.5,681.6 L1065.5,681.6 L1068.5,681.6 L1071.5,681.6 L1074.5,681.6 L1077.5,681.6 L1080.5,681.6 L1083.5,681.7 L1086.5,681.7 L1089.5,681.7 L1092.5,681.7 L1095.5,681.7 L1098.5,681.7 L1101.5,681.7 L1104.5,681.8 L1107.5,681.8 L1110.5,681.8 L1113.5,681.8 L1116.5,681.8 L1119.5,681.9 L1122.5,681.9 L1125.5,681.9 L1128.5,682.0 L1131.5,682.0 L1134.5,682.0 L1137.5,682.0 L1140.5,682.1 L1143.5,682.1 L1146.5,682.1 L1149.5,682.2 L1152.5,682.2 L1155.5,682.2 L1158.5,682.3 L1161.5,682.3 L1164.5,682.4 L1167.5,682.4 L1170.5,682.5 L1173.5,682.5 L1176.5,682.6 L1179.5,682.6 L1182.5,682.7 L1185.5,682.7 L1188.5,682.8 L1191.5,682.8 L1194.5,682.9 L1197.5,683.0 L1200.5,683.0 L1203.5,683.1 L1206.5,683.2 L1209.5,683.2 L1212.5,683.3 L1215.5,683.4 L1218.5,683.5 L1221.5,683.5 L1224.5,683.6 L1227.5,683.7 L1230.5,683.8 L1233.5,683.9 L1236.5,684.0 L1239.5,684.1 L1242.5,684.2 L1245.5,684.3 L1248.5,684.4 L1251.5,684.5 L1254.5,684.6 L1257.5,684.7 L1260.5,684.8 L1263.5,684.9 L1266.5,685.0 L1269.5,685.1 L1272.5,685.3 L1275.5,685.4 L1278.5,685.5 L1281.5,685.6 L1284.5,685.8 L1287.5,685.9 L1290.5,686.0 L1293.5,686.2 L1296.5,686.3 L1299.5,686.5 L1302.5,686.6 L1305.5,686.8 L1308.5,686.9 L1311.5,687.1 L1314.5,687.2 L1317.5,687.4 L1320.5,687.6 L1323.5,687.7 L1326.5,687.9 L1329.5,688.1 L1332.5,688.2 L1335.5,688.4 L1338.5,688.6 L1341.5,688.7 L1344.5,688.9 L1347.5,689.1 L1350.5,689.3 L1353.5,689.4 L1356.5,689.6 L1359.5,689.8 L1362.5,690.0 L1365.5,690.2 L1368.5,690.4 L1371.5,690.5 L1374.5,690.7 L1377.5,690.9 L1380.5,691.1 L1383.5,691.3 L1386.5,691.5 L1389.5,691.7 L1392.5,691.9 L1395.5,692.1 L1398.5,692.2 L1401.5,692.4 L1404.5,692.6 L1407.5,692.8 L1410.5,693.0 L1413.5,693.2 L1416.5,693.4 L1419.5,693.6 L1422.5,693.8 L1425.5,694.0 L1428.5,694.2 L1431.5,694.4 L1434.5,694.6 L1437.5,694.8 L1440.5,695.0 L1443.5,695.1 L1446.5,695.3 L1449.5,695.5 L1452.5,695.7 L1455.5,695.9 L1458.5,696.1 L1461.5,696.3 L1464.5,696.5 L1467.5,696.7 L1470.5,696.9 L1473.5,697.0 L1476.5,697.2 L1479.5,697.4 L1482.5,697.6 L1485.5,697.8 L1488.5,698.0 L1491.5,698.1 L1494.5,698.3 L1497.5,698.5 L1500.5,698.7 L1503.5,698.8 L1506.5,699.0 L1509.5,699.2 L1512.5,699.3 L1515.5,699.5 L1518.5,699.7 L1521.5,699.8 L1524.5,700.0 L1527.5,700.2 L1530.5,700.3 L1533.5,700.5 L1536.5,700.6 L1538.5,700.7" class="c"/>
<path d="M294.5,730.0 L297.5,730.0 L300.5,730.0 L303.5,730.0 L306.5,730.0 L309.5,730.0 L312.5,729.9 L315.5,729.9 L318.5,729.9 L321.5,729.9 L324.5,729.9 L327.5,729.9 L330.5,729.9 L333.5,729.8 L336.5,729.8 L339.5,729.8 L342.5,729.8 L345.5,729.8 L348.5,729.7 L351.5,729.7 L354.5,729.7 L357.5,729.7 L360.5,729.6 L363.5,729.6 L366.5,729.6 L369.5,729.6 L372.5,729.5 L375.5,729.5 L378.5,729.5 L381.5,729.5 L384.5,729.4 L387.5,729.4 L390.5,729.4 L393.5,729.3 L396.5,729.3 L399.5,729.3 L402.5,729.2 L405.5,729.2 L408.5,729.2 L411.5,729.1 L414.5,729.1 L417.5,729.1 L420.5,729.0 L423.5,729.0 L426.5,729.0 L429.5,728.9 L432.5,728.9 L435.5,728.9 L438.5,728.8 L441.5,728.8 L444.5,728.7 L447.5,728.7 L450.5,728.7 L453.5,728.6 L456.5,728.6 L459.5,728.5 L462.5,728.5 L465.5,728.4 L468.5,728.4 L471.5,728.4 L474.5,728.3 L477.5,728.3 L480.5,728.2 L483.5,728.2 L486.5,728.1 L489.5,728.1 L492.5,728.1 L495.5,728.0 L498.5,728.0 L501.5,727.9 L504.5,727.9 L507.5,727.8 L510.5,727.8 L513.5,727.7 L516.5,727.7 L519.5,727.6 L522.5,727.6 L525.5,727.5 L528.5,727.5 L531.5,727.4 L534.5,727.4 L537.5,727.3 L540.5,727.3 L543.5,727.2 L546.5,727.2 L549.5,727.1 L552.5,727.1 L555.5,727.0 L558.5,727.0 L561.5,726.9 L564.5,726.9 L567.5,726.8 L570.5,726.7 L573.5,726.7 L576.5,726.6 L579.5,726.6 L582.5,726.5 L585.5,726.5 L588.5,726.4 L591.5,726.4 L594.5,726.3 L597.5,726.3 L600.5,726.2 L603.5,726.1 L606.5,726.1 L609.5,726.0 L612.5,726.0 L615.5,725.9 L618.5,725.9 L621.5,725.8 L624.5,725.7 L627.5,725.7 L630.5,725.6 L633.5,725.6 L636.5,725.5 L639.5,725.5 L642.5,725.4 L645.5,725.3 L648.5,725.3 L651.5,725.2 L654.5,725.2 L657.5,725.1 L660.5,725.1 L663.5,725.0 L666.5,724.9 L669.5,724.9 L672.5,724.8 L675.5,724.8 L678.5,724.7 L681.5,724.6 L684.5,724.6 L687.5,724.5 L690.5,724.5 L693.5,724.4 L696.5,724.4 L699.5,724.3 L702.5,724.2 L705.5,724.2 L708.5,724.1 L711.5,724.1 L714.5,724.0 L717.5,723.9 L720.5,723.9 L723.5,723.8 L726.5,723.8 L729.5,723.7 L732.5,723.7 L735.5,723.6 L738.5,723.5 L741.5,723.5 L744.5,723.4 L747.5,723.4 L750.5,723.3 L753.5,723.3 L756.5,723.2 L759.5,723.1 L762.5,723.1 L765.5,723.0 L768.5,723.0 L771.5,722.9 L774.5,722.9 L777.5,722.8 L780.5,722.7 L783.5,722.7 L786.5,722.6 L789.5,722.6 L792.5,722.5 L795.5,722.5 L798.5,722.4 L801.5,722.4 L804.5,722.3 L807.5,722.3 L810.5,722.2 L813.5,722.1 L816.5,722.1 L819.5,722.0 L822.5,722.0 L825.5,721.9 L828.5,721.9 L831.5,721.8 L834.5,721.8 L837.5,721.7 L840.5,721.7 L843.5,721.6 L846.5,721.6 L849.5,721.5 L852.5,721.5 L855.5,721.4 L858.5,721.4 L861.5,721.3 L864.5,721.3 L867.5,721.2 L870.5,721.2 L873.5,721.1 L876.5,721.1 L879.5,721.0 L882.5,721.0 L885.5,720.9 L888.5,720.9 L891.5,720.8 L894.5,720.8 L897.5,720.7 L900.5,720.7 L903.5,720.7 L906.5,720.6 L909.5,720.6 L912.5,720.5 L915.5,720.5 L918.5,720.4 L921.5,720.4 L924.5,720.4 L927.5,720.3 L930.5,720.3 L933.5,720.2 L936.5,720.2 L939.5,720.1 L942.5,720.1 L945.5,720.1 L948.5,720.0 L951.5,720.0 L954.5,720.0 L957.5,719.9 L960.5,719.9 L963.5,719.8 L966.5,719.8 L969.5,719.8 L972.5,719.7 L975.5,719.7 L978.5,719.7 L981.5,719.6 L984.5,719.6 L987.5,719.6 L990.5,719.5 L993.5,719.5 L996.5,719.5 L999.5,719.5 L1002.5,719.4 L1005.5,719.4 L1008.5,719.4 L1011.5,719.3 L1014.5,719.3 L1017.5,719.3 L1020.5,719.3 L1023.5,719.2 L1026.5,719.2 L1029.5,719.2 L1032.5,719.2 L1035.5,719.1 L1038.5,719.1 L1041.5,719.1 L1044.5,719.1 L1047.5,719.1 L1050.5,719.0 L1053.5,719.0 L1056.5,719.0 L1059.5,719.0 L1062.5,719.0 L1065.5,719.0 L1068.5,718.9 L1071.5,718.9 L1074.5,718.9 L1077.5,718.9 L1080.5,718.9 L1083.5,718.9 L1086.5,718.9 L1089.5,718.9 L1092.5,718.8 L1095.5,718.8 L1098.5,718.8 L1101.5,718.8 L1104.5,718.8 L1107.5,718.8 L1110.5,718.8 L1113.5,718.8 L1116.5,718.8 L1119.5,718.8 L1122.5,718.8 L1125.5,718.8 L1128.5,718.8 L1131.5,718.8 L1134.5,718.8 L1137.5,718.8 L1140.5,718.8 L1143.5,718.8 L1146.5,718.8 L1149.5,718.8 L1152.5,718.8 L1155.5,718.8 L1158.5,718.8 L1161.5,718.9 L1164.5,718.9 L1167.5,718.9 L1170.5,718.9 L1173.5,718.9 L1176.5,718.9 L1179.5,718.9 L1182.5,718.9 L1185.5,719.0 L1188.5,719.0 L1191.5,719.0 L1194.5,719.0 L1197.5,719.0 L1200.5,719.0 L1203.5,719.1 L1206.5,719.1 L1209.5,719.1 L1212.5,719.1 L1215.5,719.2 L1218.5,719.2 L1221.5,719.2 L1224.5,719.2 L1227.5,719.3 L1230.5,719.3 L1233.5,719.3 L1236.5,719.4 L1239.5,719.4 L1242.5,719.4 L1245.5,719.5 L1248.5,719.5 L1251.5,719.6 L1254.5,719.6 L1257.5,719.6 L1260.5,719.7 L1263.5,719.7 L1266.5,719.8 L1269.5,719.8 L1272.5,719.8 L1275.5,719.9 L1278.5,719.9 L1281.5,720.0 L1284.5,720.0 L1287.5,720.1 L1290.5,720.1 L1293.5,720.2 L1296.5,720.2 L1299.5,720.3 L1302.5,720.4 L1305.5,720.4 L1308.5,720.5 L1311.5,720.5 L1314.5,720.6 L1317.5,720.6 L1320.5,720.7 L1323.5,720.8 L1326.5,720.8 L1329.5,720.9 L1332.5,721.0 L1335.5,721.0 L1338.5,721.1 L1341.5,721.2 L1344.5,721.3 L1347.5,721.3 L1350.5,721.4 L1353.5,721.5 L1356.5,721.6 L1359.5,721.6 L1362.5,721.7 L1365.5,721.8 L1368.5,721.9 L1371.5,722.0 L1374.5,722.0 L1377.5,722.1 L1380.5,722.2 L1383.5,722.3 L1386.5,722.4 L1389.5,722.5 L1392.5,722.6 L1395.5,722.7 L1398.5,722.8 L1401.5,722.9 L1404.5,723.0 L1407.5,723.1 L1410.5,723.2 L1413.5,723.3 L1416.5,723.4 L1419.5,723.5 L1422.5,723.6 L1425.5,723.7 L1428.5,723.8 L1431.5,723.9 L1434.5,724.0 L1437.5,724.1 L1440.5,724.2 L1443.5,724.3 L1446.5,724.5 L1449.5,724.6 L1452.5,724.7 L1455.5,724.8 L1458.5,724.9 L1461.5,725.1 L1464.5,725.2 L1467.5,725.3 L1470.5,725.4 L1473.5,725.6 L1476.5,725.7 L1479.5,725.8 L1482.5,726.0 L1485.5,726.1 L1488.5,726.2 L1491.5,726.4 L1494.5,726.5 L1497.5,726.7 L1500.5,726.8 L1503.5,726.9 L1506.5,727.1 L1509.5,727.2 L1512.5,727.4 L1515.5,727.5 L1518.5,727.7 L1521.5,727.8 L1524.5,728.0 L1527.5,728.2 L1530.5,728.3 L1533.5,728.5 L1536.5,728.6 L1538.5,728.7" class="c"/>
<line x1="435.5" y1="189.6" x2="395" y2="209.2" class="l"/>
<line x1="398.6" y1="217.5" x2="384.2" y2="264" class="l"/>
<line x1="1228.6" y1="201.8" x2="1240.4" y2="217.6" class="l"/>
<line x1="438.2" y1="649" x2="438.2" y2="664.4" class="l"/>
<rect x="315.3" y="84.0" width="313.1" height="45.0" class="b"/>
<text transform="translate(472.0,115.9) scale(1,1.040)" font-size="32.0" text-anchor="middle" >ПТ-135+ПТ-80+Т-110</text>
<rect x="676.2" y="83.4" width="210.2" height="46.1" class="b"/>
<text transform="translate(781.7,115.9) scale(1,1.040)" font-size="32.0" text-anchor="middle" >ПТ-135+Т-110</text>
<rect x="947.8" y="70.8" width="92.6" height="109.2" class="b"/>
<text transform="translate(994.5,103.5) scale(1,1.070)" font-size="32.0" text-anchor="middle" >ПТ-80</text>
<text x="994.0" y="137.5" font-size="35.0" text-anchor="middle" >+</text>
<text transform="translate(994.5,172.4) scale(1,1.070)" font-size="32.0" text-anchor="middle" >Т-110</text>
<rect x="1231.0" y="83.3" width="94.3" height="45.4" class="b"/>
<text transform="translate(1279.0,116.1) scale(1,1.040)" font-size="32.0" text-anchor="middle" >ПТ-80</text>
<rect x="405.0" y="151.0" width="100.4" height="37.9" class="b"/>
<text x="455.5" y="179.0" font-size="32.0" text-anchor="middle" >Qт тэц</text>
<rect x="328.2" y="264.6" width="99.5" height="38.1" class="b"/>
<text x="378.0" y="293.0" font-size="32.0" text-anchor="middle" >Nэ тэц</text>
<rect x="1221.2" y="217.6" width="100.6" height="37.3" class="b"/>
<text x="1271.5" y="246.4" font-size="32.0" text-anchor="middle" >bэ тэц</text>
<rect x="1222.0" y="360.3" width="99.3" height="38.4" class="b"/>
<text x="1271.5" y="390.3" font-size="32.0" text-anchor="middle" >bэ гтэс</text>
<rect x="389.2" y="609.3" width="110.3" height="39.7" class="b"/>
<text x="444.5" y="639.0" font-size="32.0" text-anchor="middle" >Nэ гтэс</text>
<rect x="327.9" y="678.0" width="110.3" height="38.2" class="b"/>
<text x="383.0" y="706.2" font-size="32.0" text-anchor="middle" >Qт гтэс</text>
<text x="6.0" y="42.3" font-size="43.0" text-anchor="start" >Qт, Гкал/ч</text>
<text x="216.7" y="43.2" font-size="43.0" text-anchor="start" >Nэ, МВт</text>
<text x="1461.4" y="42.6" font-size="43.3">bэ, г/кВт<tspan font-size="24" dx="-2.5" dy="-2">·</tspan><tspan dx="-2.8" dy="2">ч</tspan></text>
<text transform="translate(55.0,161.5) scale(1,1.060)" font-size="43.5">700</text>
<text transform="translate(55.3,250.4) scale(1,1.060)" font-size="43.5">600</text>
<text transform="translate(54.9,339.3) scale(1,1.060)" font-size="43.5">500</text>
<text transform="translate(55.2,429.3) scale(1,1.060)" font-size="43.5">400</text>
<text transform="translate(54.6,518.3) scale(1,1.060)" font-size="43.5">300</text>
<text transform="translate(53.5,606.8) scale(1,1.060)" font-size="43.5">200</text>
<text transform="translate(52.8,696.5) scale(1,1.060)" font-size="43.5">100</text>
<text transform="translate(88.8,786.4) scale(1,1.060)" font-size="43.5">0</text>
<text transform="translate(206.3,161.6) scale(1,1.060)" font-size="43.5">350</text>
<text transform="translate(206.3,253.5) scale(1,1.060)" font-size="43.5">300</text>
<text transform="translate(206.4,338.8) scale(1,1.060)" font-size="43.5">250</text>
<text transform="translate(206.4,428.1) scale(1,1.060)" font-size="43.5">200</text>
<text transform="translate(206.7,517.7) scale(1,1.060)" font-size="43.5">150</text>
<text transform="translate(206.7,606.5) scale(1,1.060)" font-size="43.5">100</text>
<text transform="translate(220.1,699.8) scale(1,1.060)" font-size="43.5">50</text>
<text transform="translate(251.1,789.3) scale(1,1.060)" font-size="43.5">0</text>
<text transform="translate(1563.7,161.0) scale(1,1.060)" font-size="43.5">350</text>
<text transform="translate(1564.2,250.5) scale(1,1.060)" font-size="43.5">300</text>
<text transform="translate(1564.2,340.0) scale(1,1.060)" font-size="43.5">250</text>
<text transform="translate(1564.2,428.5) scale(1,1.060)" font-size="43.5">200</text>
<text transform="translate(1564.1,517.8) scale(1,1.060)" font-size="43.5">150</text>
<text transform="translate(1564.1,606.9) scale(1,1.060)" font-size="43.5">100</text>
<text transform="translate(1565.1,697.8) scale(1,1.060)" font-size="43.5">50</text>
<text transform="translate(1562.5,785.0) scale(1,1.060)" font-size="43.5">0</text>
<text transform="translate(264.2,828.1) scale(1,1.060)" font-size="43.5">-35</text>
<text transform="translate(353.6,828.1) scale(1,1.060)" font-size="43.5">-30</text>
<text transform="translate(441.4,828.1) scale(1,1.060)" font-size="43.5">-25</text>
<text transform="translate(531.3,828.1) scale(1,1.060)" font-size="43.5">-20</text>
<text transform="translate(619.8,827.8) scale(1,1.060)" font-size="43.5">-15</text>
<text transform="translate(709.3,827.8) scale(1,1.060)" font-size="43.5">-10</text>
<text transform="translate(808.5,827.8) scale(1,1.060)" font-size="43.5">-5</text>
<text transform="translate(905.7,827.7) scale(1,1.060)" font-size="43.5">0</text>
<text transform="translate(993.0,827.7) scale(1,1.060)" font-size="43.5">5</text>
<text transform="translate(1072.3,827.7) scale(1,1.060)" font-size="43.5">10</text>
<text transform="translate(1160.7,827.7) scale(1,1.060)" font-size="43.5">15</text>
<text transform="translate(1249.9,827.7) scale(1,1.060)" font-size="43.5">20</text>
<text transform="translate(1338.4,828.0) scale(1,1.060)" font-size="43.5">25</text>
<text transform="translate(1428.1,828.0) scale(1,1.060)" font-size="43.5">30</text>
<text y="826.7" font-size="43"><tspan x="1493" font-size="47">t</tspan><tspan x="1505.5" font-size="31" letter-spacing="0.5">н.в.,</tspan><tspan x="1563.5" y="817" font-size="21">°</tspan><tspan x="1572" y="826.7">C</tspan></text>
</svg></body></html>
